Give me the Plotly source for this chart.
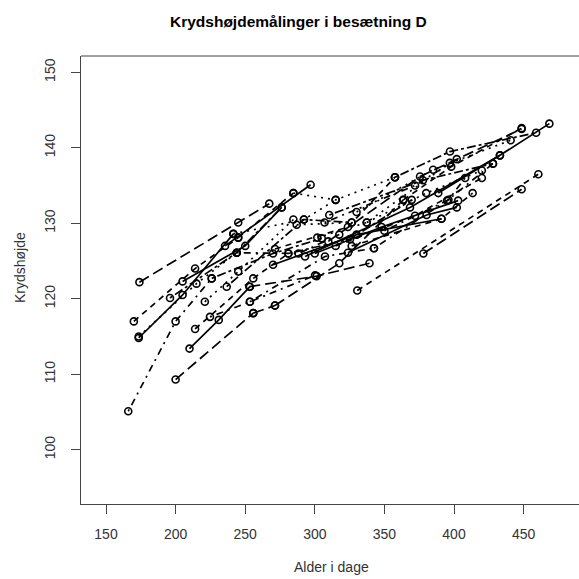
import plotly.graph_objects as go

# Each animal: list of (age in days, cross height) measurements, and its R line type
animal_ages = [
    [166, 200, 225.9],
    [200, 255.8],
    [173.5, 205, 241.5],
    [173.5, 215, 243.9],
    [170, 214, 245],
    [174, 245, 267.3],
    [196, 243.9, 276.2],
    [210, 231, 253.4],
    [214, 255.8, 281],
    [221, 245, 284.6],
    [224.7, 253.4, 300.2],
    [236.7, 292.2, 326.5],
    [235.5, 297],
    [271.4, 323.8, 357.6],
    [284.6, 315, 357.6],
    [253.4, 307.3, 342.5],
    [271.4, 317.6, 363.6],
    [281, 325.3, 369.6],
    [293, 368.4, 433],
    [330.5, 460.6],
    [301.8, 337.3, 397],
    [307, 372, 402],
    [309.7, 375.6, 448.6],
    [310.4, 377.7, 428],
    [323.8, 380.3, 402],
    [326.5, 391, 413.4],
    [330, 385, 440.7],
    [342.5, 396, 408],
    [378, 448.6],
    [357.6, 397.1, 459],
    [388.7, 433, 468.5],
    [363.6, 398, 448.6],
    [287, 326.5],
    [255.8, 271.4],
    [245, 284.6],
    [241.5, 292.2, 315],
    [226, 270, 305],
    [253, 301.3, 339.3],
    [243.9, 288.3, 317.6],
    [300, 348, 403],
    [315, 372, 420],
    [337.3, 380, 420],
    [350, 395, 428],
    [205, 250, 276.2],
    [270, 330, 391],
]
animal_heights = [
    [105.1, 117.0, 122.7],
    [109.3, 118.1],
    [114.8, 120.5, 128.6],
    [115.0, 122.0, 126.1],
    [117.0, 124.0, 128.1],
    [122.2, 130.1, 132.6],
    [120.1, 126.1, 132.1],
    [113.4, 117.2, 121.6],
    [116.0, 122.7, 126.0],
    [119.6, 123.6, 130.5],
    [117.6, 119.6, 123.1],
    [121.6, 130.5, 130.1],
    [127.0, 135.1],
    [126.6, 129.5, 136.1],
    [134.0, 133.1, 136.1],
    [119.6, 125.6, 126.7],
    [119.1, 124.7, 133.1],
    [126.0, 127.9, 133.1],
    [125.6, 132.1, 139.0],
    [121.1, 136.5],
    [128.1, 130.1, 138.0],
    [130.1, 135.0, 138.5],
    [127.6, 136.2, 142.5],
    [131.1, 135.7, 137.9],
    [126.1, 131.1, 132.1],
    [127.0, 130.6, 134.0],
    [131.5, 137.1, 141.0],
    [126.7, 133.1, 136.0],
    [126.0, 134.5],
    [136.1, 139.5, 142.0],
    [134.0, 139.0, 143.2],
    [133.1, 137.5, 142.6],
    [129.8, 130.1],
    [118.1, 119.1],
    [128.1, 134.0],
    [128.6, 130.5, 133.1],
    [122.7, 126.0, 128.0],
    [121.6, 123.0, 124.7],
    [126.1, 126.0, 128.5],
    [126.0, 129.5, 133.0],
    [127.0, 131.0, 136.0],
    [130.1, 134.0, 137.0],
    [129.0, 133.0, 137.9],
    [122.3, 127.0, 132.1],
    [124.5, 128.5, 130.6],
]
animal_lty = [4, 5, 1, 3, 2, 5, 6, 1, 2, 3, 4, 6, 1, 2, 3, 4, 5, 6, 1, 2,
              3, 4, 5, 6, 1, 2, 3, 4, 5, 6, 1, 2, 3, 5,
              2, 3, 6, 5, 4, 1, 2, 3, 4, 1, 1]

x_ticks = [150, 200, 250, 300, 350, 400, 450]
y_ticks = [100, 110, 120, 130, 140, 150]

title_text = "Krydshøjdemålinger i besætning D"
x_title = "Alder i dage"
y_title = "Krydshøjde"

dash_map = {
    1: "solid",
    2: "6px,5px",
    3: "2px,5px",
    4: "2px,5px,7px,5px",
    5: "11px,5px",
    6: "3px,3px,9px,3px",
}

FONT = "Liberation Sans, Arial, sans-serif"
fig = go.Figure()
for ages, hts, lty in zip(animal_ages, animal_heights, animal_lty):
    fig.add_trace(go.Scatter(
        x=ages, y=hts, mode="lines+markers",
        line=dict(color="black", width=1.7, dash=dash_map[lty]),
        marker=dict(symbol="circle-open", size=7, color="black",
                    line=dict(width=1.6, color="black")),
        showlegend=False, hoverinfo="skip",
    ))

L, T, B = 81, 56, 75
W = H = 579
pw = W - L
ph = H - T - B

axis_col = "#444444"
fig.update_layout(
    width=W, height=H,
    margin=dict(l=L, r=0, t=T, b=B, pad=0),
    paper_bgcolor="white", plot_bgcolor="white",
    font=dict(family=FONT, size=14, color="#333333"),
    xaxis=dict(range=[132.04, 489.8], tickvals=x_ticks, ticks="outside",
               ticklen=9, tickcolor=axis_col, tickwidth=1,
               showline=True, linecolor=axis_col, linewidth=1,
               showgrid=False, zeroline=False, ticklabelstandoff=8,
               tickfont=dict(size=14, color="#333333")),
    yaxis=dict(range=[92.81, 152.16], tickvals=y_ticks, ticks="outside",
               ticklen=9, tickcolor=axis_col, tickwidth=1,
               showline=True, linecolor=axis_col, linewidth=1,
               showgrid=False, zeroline=False, tickangle=-90,
               ticklabelstandoff=10,
               tickfont=dict(size=14, color="#333333")),
    shapes=[dict(type="line", xref="paper", yref="paper", x0=0, x1=1,
                 y0=1, y1=1, line=dict(color=axis_col, width=1))],
    annotations=[
        dict(text="<b>" + title_text + "</b>", xref="paper", yref="paper",
             x=(298 - L) / pw, y=(H - B - 22) / ph, xanchor="center",
             yanchor="middle", showarrow=False,
             font=dict(size=15.5, color="black", family=FONT)),
        dict(text=x_title, xref="paper", yref="paper",
             x=(331 - L) / pw, y=(H - B - 567) / ph, xanchor="center",
             yanchor="middle", showarrow=False,
             font=dict(size=14, color="#333333", family=FONT)),
        dict(text=y_title, xref="paper", yref="paper",
             x=(20 - L) / pw, y=(H - B - 268) / ph, xanchor="center",
             yanchor="middle", showarrow=False, textangle=-90,
             font=dict(size=14, color="#333333", family=FONT)),
    ],
)

fig.write_html("out.html")
